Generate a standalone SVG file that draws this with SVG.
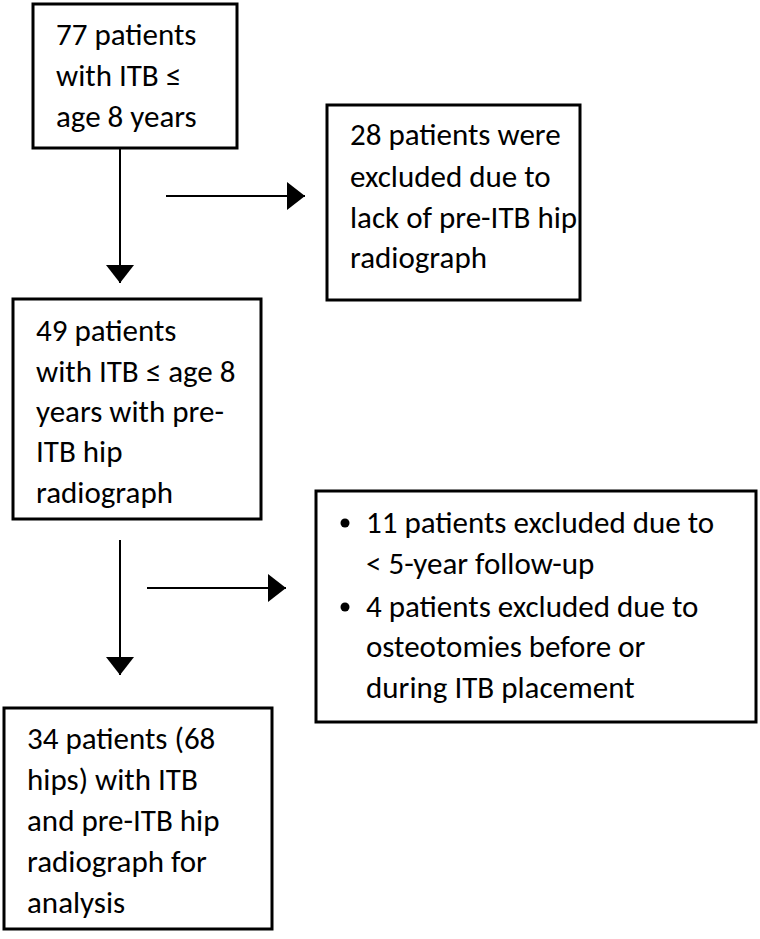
<svg xmlns="http://www.w3.org/2000/svg" width="760" height="939" viewBox="0 0 760 939">
<style>
.box{fill:#fff;stroke:#000;stroke-width:3}
.t{font-family:Carlito,Lato,"Noto Sans",sans-serif;font-size:31px;fill:#000}
.ln{stroke:#000;stroke-width:2;fill:none}
</style>
<defs>
<marker id="ah" markerUnits="userSpaceOnUse" markerWidth="20" markerHeight="30" refX="18" refY="14" orient="auto">
<path d="M0,0 L18,14 L0,28 Z" fill="#000"/>
</marker>
</defs>
<rect width="760" height="939" fill="#fff"/>
<g id="n1">
<rect class="box" x="33" y="4" width="204" height="144"/>
<text class="t" x="56" y="45">77 patients</text>
<text class="t" x="56" y="86">with ITB ≤</text>
<text class="t" x="56" y="127">age 8 years</text>
</g>
<g id="n2">
<rect class="box" x="327" y="105" width="253" height="195"/>
<text class="t" x="350" y="145">28 patients were</text>
<text class="t" x="350" y="187">excluded due to</text>
<text class="t" x="350" y="228">lack of pre-ITB hip</text>
<text class="t" x="350" y="268">radiograph</text>
</g>
<g id="n3">
<rect class="box" x="13" y="299" width="248" height="220"/>
<text class="t" x="36" y="341">49 patients</text>
<text class="t" x="36" y="382">with ITB ≤ age 8</text>
<text class="t" x="36" y="422">years with pre-</text>
<text class="t" x="36" y="462">ITB hip</text>
<text class="t" x="36" y="503">radiograph</text>
</g>
<g id="n4">
<rect class="box" x="316" y="491" width="440" height="231"/>
<circle cx="345" cy="523" r="4.5" fill="#000"/>
<text class="t" x="366" y="533">11 patients excluded due to</text>
<text class="t" x="366" y="574">&lt; 5-year follow-up</text>
<circle cx="345" cy="607" r="4.5" fill="#000"/>
<text class="t" x="366" y="617">4 patients excluded due to</text>
<text class="t" x="366" y="657">osteotomies before or</text>
<text class="t" x="366" y="698">during ITB placement</text>
</g>
<g id="n5">
<rect class="box" x="4" y="708" width="268" height="221"/>
<text class="t" x="27" y="749">34 patients (68</text>
<text class="t" x="27" y="790">hips) with ITB</text>
<text class="t" x="27" y="831">and pre-ITB hip</text>
<text class="t" x="27" y="872">radiograph for</text>
<text class="t" x="27" y="913">analysis</text>
</g>
<g id="connectors">
<line class="ln" x1="120" y1="149" x2="120" y2="283" marker-end="url(#ah)"/>
<line class="ln" x1="166" y1="196" x2="305" y2="196" marker-end="url(#ah)"/>
<line class="ln" x1="120" y1="540" x2="120" y2="675" marker-end="url(#ah)"/>
<line class="ln" x1="147" y1="588" x2="286" y2="588" marker-end="url(#ah)"/>
</g>
</svg>
